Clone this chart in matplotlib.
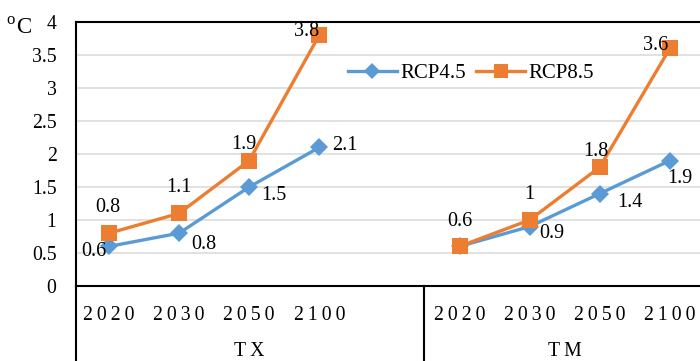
import matplotlib
matplotlib.use("Agg")
import matplotlib.pyplot as plt
from matplotlib.lines import Line2D

# ---- data ----
groups = ["T\u2009X", "T\u2009M"]
years = ["2\u20090\u20092\u20090", "2\u20090\u20093\u20090",
         "2\u20090\u20095\u20090", "2\u20091\u20090\u20090"]
rcp45_tx = [0.6, 0.8, 1.5, 2.1]
rcp45_tm = [0.6, 0.9, 1.4, 1.9]
rcp85_tx = [0.8, 1.1, 1.9, 3.8]
rcp85_tm = [0.6, 1.0, 1.8, 3.6]
y_ticks = [0, 0.5, 1, 1.5, 2, 2.5, 3, 3.5, 4]

# label offsets (pixels, baseline-anchored); None hides a label
off45_tx = [(-15, -10), (25, -16), (25, -13.5), (26, -2.5)]
off45_tm = [None, (22, -11.5), (30, -13), (10, -22.5)]
off85_tx = [(-1, 21.5), (0, 21.5), (-5, 11.5), (-13, -0.5)]
off85_tm = [(0, 20), (0, 21), (-4, 11), (-14, -1.5)]

BLUE = "#5B9BD5"
ORANGE = "#ED7D31"
FONT = "Liberation Serif"
plt.rcParams["font.family"] = [FONT, "DejaVu Serif"]
FS = 14.2

W, H = 700, 361
fig = plt.figure(figsize=(W / 100, H / 100), dpi=100)
ax = fig.add_axes([76 / W, 75 / H, 624 / W, 264 / H])

n = len(years)
slot = n + 1  # one empty slot after every group
xs = [[g * slot + i for i in range(n)] for g in range(len(groups))]

s45 = [rcp45_tx, rcp45_tm]
s85 = [rcp85_tx, rcp85_tm]
o45 = [off45_tx, off45_tm]
o85 = [off85_tx, off85_tm]

for g in range(len(groups)):
    ax.plot(xs[g], s45[g], color=BLUE, lw=2.4, marker="D", ms=9.5,
            mec=BLUE, mew=0, zorder=3, solid_capstyle="round")
    ax.plot(xs[g], s85[g], color=ORANGE, lw=2.4, marker="s", ms=11,
            mec=ORANGE, mew=0, zorder=4, solid_capstyle="round")
    for vals, offs in ((s45[g], o45[g]), (s85[g], o85[g])):
        for x, v, off in zip(xs[g], vals, offs):
            if off is None:
                continue
            ax.annotate(f"{v:g}", (x, v), xytext=off, textcoords="offset pixels",
                        ha="center", va="baseline", fontsize=14.5,
                        color="#000000", zorder=6, annotation_clip=False)

ax.set_xlim(-0.47, 8.43)
ax.set_ylim(0, 4)
ax.set_yticks(y_ticks)
ax.set_yticklabels([f"{t:g}" for t in y_ticks], fontsize=FS)
ax.tick_params(axis="y", length=0, pad=14)
ax.set_xticks([])
ax.yaxis.grid(True, color="#D9D9D9", lw=1.1)
ax.set_axisbelow(True)

for side in ("top", "left", "bottom"):
    ax.spines[side].set_color("black")
    ax.spines[side].set_linewidth(1.5)
ax.spines["right"].set_visible(False)

# multi-level category axis below the plot
xt = ax.get_xaxis_transform()
ybot = -75 / 264
ax.plot([-0.47, -0.47], [0, ybot], transform=xt, color="black", lw=1.5,
        clip_on=False)
for g in range(len(groups) - 1):
    xd = g * slot + n + 0.5
    ax.plot([xd, xd], [0, ybot], transform=xt, color="black", lw=1.5,
            clip_on=False)
for g, name in enumerate(groups):
    for x, yl in zip(xs[g], years):
        ax.text(x, -34 / 264, yl, transform=xt, ha="center", va="baseline",
                fontsize=FS, color="#000000")
    centre = g * slot + (n - 1) / 2 + (0.5 if g < len(groups) - 1 else 0.0)
    ax.text(centre, -70.5 / 264, name, transform=xt, ha="center",
            va="baseline", fontsize=FS, color="#000000")

# unit label
fig.text(6 / W, 1 - 24 / H, "o", fontsize=12, ha="left", va="baseline")
fig.text(16 / W, 1 - 33 / H, "C", fontsize=16.5, ha="left", va="baseline")

handles = [
    Line2D([], [], color=BLUE, lw=2.4, marker="D", ms=8.5, mew=0),
    Line2D([], [], color=ORANGE, lw=2.4, marker="s", ms=10, mew=0),
]
fig.legend(handles, ["RCP4.5", "RCP8.5"], loc="center left",
           bbox_to_anchor=(348 / W, 1 - 73 / H), ncol=2, frameon=False,
           fontsize=15, handlelength=2.35, handletextpad=0.15,
           columnspacing=0.5, borderpad=0, borderaxespad=0)

fig.savefig("out.png", dpi=100)
